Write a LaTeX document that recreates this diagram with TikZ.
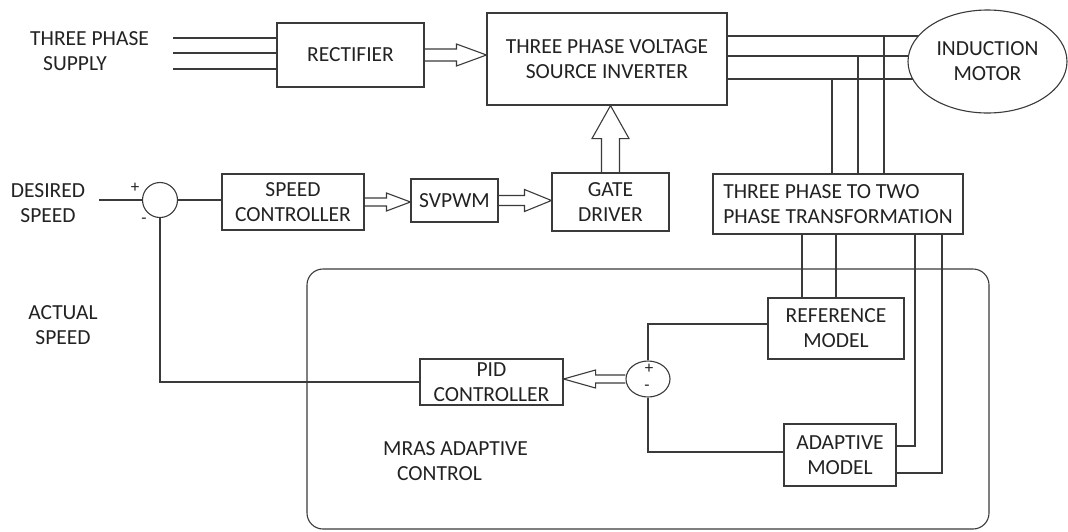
\documentclass[tikz,border=0pt]{standalone}
\usepackage{fontspec}
\setmainfont{Carlito}
\usetikzlibrary{calc,shapes.geometric}
\pgfdeclarelayer{bg}
\pgfsetlayers{bg,main}
\definecolor{ink}{HTML}{3A3A3A}
\definecolor{txt}{HTML}{222222}
\newcommand{\lbl}{\fontsize{21.5}{25}\selectfont}
% horizontal hollow arrow: tail, tip, shaft half width, head half width, head length (signed)
\newcommand{\harrowx}[5]{%
  \draw[conn] let \p1=(#1), \p2=(#2), \n1={\x2-(#5)} in
    ({\x1},{\y2+#3}) -- ({\n1},{\y2+#3}) -- ({\n1},{\y2+#4}) -- ({\x2},{\y2})
    -- ({\n1},{\y2-#4}) -- ({\n1},{\y2-#3}) -- ({\x1},{\y2-#3});}
% vertical hollow arrow pointing up
\newcommand{\harrowy}[5]{%
  \draw[conn] let \p1=(#1), \p2=(#2), \n1={\y2-(#5)} in
    ({\x2+#3},{\y1}) -- ({\x2+#3},{\n1}) -- ({\x2+#4},{\n1}) -- ({\x2},{\y2})
    -- ({\x2-#4},{\n1}) -- ({\x2-#3},{\n1}) -- ({\x2-#3},{\y1});}
\begin{document}
\begin{tikzpicture}[x=1pt,y=-1pt,
  conn/.style={draw=ink,line width=1.1pt,line join=miter},
  blk/.style={draw=ink,line width=1.1pt,inner sep=0pt,align=center,text=txt,font=\lbl},
  lbl/.style={inner sep=0pt,align=center,text=txt,font=\lbl},
  sgn/.style={inner sep=0pt,text=txt,font=\fontsize{17}{17}\selectfont}]
\useasboundingbox (0,0) rectangle (1068,531);

% blocks
\node[blk, minimum width=147, minimum height=64] (rect) at (350.5,55) {RECTIFIER};
\node[blk, minimum width=240, minimum height=92] (vsi) at (607,59) {THREE PHASE VOLTAGE\\SOURCE INVERTER};
\node[blk, ellipse, fill=white, minimum width=159, minimum height=103] (motor) at (987.5,61.5) {INDUCTION\\MOTOR};
\node[blk, align=left, minimum width=250, minimum height=60] (trans) at (838,204) {THREE PHASE TO TWO\\PHASE TRANSFORMATION};
\node[blk, minimum width=117, minimum height=58] (gate) at (610.5,202) {GATE\\DRIVER};
\node[blk, minimum width=87, minimum height=43] (svpwm) at (454.5,200.5) {SVPWM};
\node[blk, minimum width=142, minimum height=56] (speed) at (293,202) {SPEED\\CONTROLLER};
\node[blk, circle, minimum size=35] (sum1) at (160,200) {};
\node[draw=ink, line width=1.1pt, rounded corners=16pt, minimum width=682, minimum height=260, inner sep=0pt] (mras) at (648,399) {};
\node[blk, minimum width=143, minimum height=46] (pid) at (491.5,382) {PID\\CONTROLLER};
\node[blk, ellipse, minimum width=44, minimum height=36] (sum2) at (648,379) {};
\node[blk, minimum width=136, minimum height=61] (ref) at (836,328.5) {REFERENCE\\MODEL};
\node[blk, minimum width=112, minimum height=62] (adapt) at (840,455) {ADAPTIVE\\MODEL};

% labels
\node[lbl, anchor=west, align=left] (supply) at (30,51) {THREE PHASE\\\hspace*{13pt}SUPPLY};
\node[lbl] (desired) at (48,203.5) {DESIRED\\SPEED};
\node[lbl] (actual) at (63,325.5) {ACTUAL\\SPEED};
\node[lbl, anchor=west, align=left] (mraslbl) at (383,461) {MRAS ADAPTIVE\\\hspace*{14pt}CONTROL};
\node[sgn] (p1) at (135,188) {+};
\node[sgn] (n1) at (144,221) {-};
\node[sgn] (p2) at (649,369) {+};
\node[sgn] (n2) at (647,388) {-};

% helper coordinates
\coordinate (s1) at (173,38);
\coordinate (s2) at (173,53);
\coordinate (s3) at (173,69);
\coordinate (L1) at (884,36);
\coordinate (L2) at (858,56);
\coordinate (L3) at (832,79);
\coordinate (b1) at (802,0);
\coordinate (b2) at (836,0);
\coordinate (a1) at (915,446);
\coordinate (a2) at (942,473);
\coordinate (c1) at (648,324);
\coordinate (c2) at (648,452);
\coordinate (d0) at (99,200);
\coordinate (f1) at (160,382);

% supply lines
\draw[conn] (s1) -- (s1 -| rect.west);
\draw[conn] (s2) -- (s2 -| rect.west);
\draw[conn] (s3) -- (s3 -| rect.west);

% inverter to motor
\begin{pgfonlayer}{bg}
\draw[conn] (vsi.east |- L1) -- (L1 -| motor.center);
\draw[conn] (vsi.east |- L2) -- (L2 -| motor.center);
\draw[conn] (vsi.east |- L3) -- (L3 -| motor.center);
\end{pgfonlayer}
\draw[conn] (L1) -- (L1 |- trans.north);
\draw[conn] (L2) -- (L2 |- trans.north);
\draw[conn] (L3) -- (L3 |- trans.north);

% transformation to models
\draw[conn] (trans.south -| b1) -- (ref.north -| b1);
\draw[conn] (trans.south -| b2) -- (ref.north -| b2);
\draw[conn] (trans.south -| a1) -- (a1) -- (a1 -| adapt.east);
\draw[conn] (trans.south -| a2) -- (a2) -- (a2 -| adapt.east);

% models to comparator
\draw[conn] (sum2.north) -- (c1) -- (c1 -| ref.west);
\draw[conn] (sum2.south) -- (c2) -- (c2 -| adapt.west);

% speed loop
\draw[conn] (d0) -- (sum1.west);
\draw[conn] (sum1.east) -- (sum1.east -| speed.west);
\draw[conn] (sum1.south) -- (f1) -- (f1 -| pid.west);

% hollow arrows
\harrowx{rect.east}{vsi.west |- rect.east}{6pt}{11pt}{30pt}
\harrowx{speed.east}{svpwm.west |- speed.east}{4pt}{9pt}{24pt}
\harrowx{svpwm.east}{gate.west |- svpwm.east}{5pt}{11pt}{27pt}
\harrowy{gate.north}{vsi.south -| gate.north}{9pt}{18.5pt}{33pt}
\harrowx{sum2.west}{pid.east |- sum2.west}{4pt}{9pt}{-32pt}
\end{tikzpicture}
\end{document}
